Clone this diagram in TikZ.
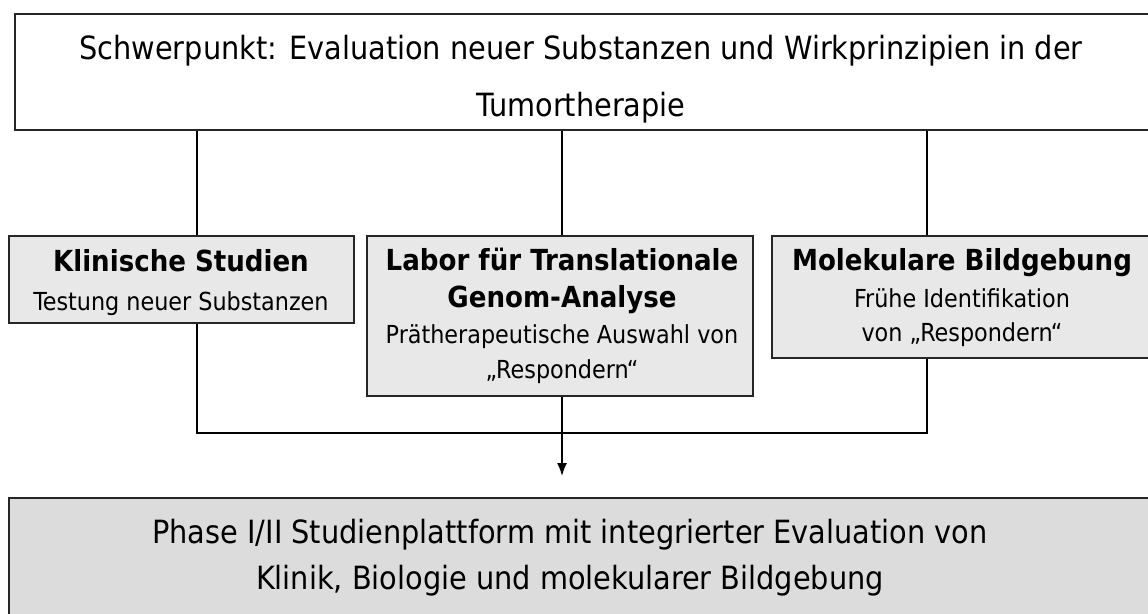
\documentclass[tikz,border=0pt]{standalone}
\usepackage{fontspec}
\setmainfont{DejaVu Sans Condensed}
\newfontfamily\boxfont{DejaVu Sans Condensed}
\usetikzlibrary{arrows.meta}
\definecolor{boxgray}{HTML}{E8E8E8}
\definecolor{basegray}{HTML}{DCDCDC}
\tikzset{
  frame/.style={draw=black!85, line width=1.8pt, inner sep=0pt, anchor=north west},
  lightbox/.style={frame, fill=boxgray},
  basebox/.style={frame, fill=basegray},
  bigtxt/.style={anchor=base, inner sep=0pt, font=\fontsize{32}{38}\selectfont},
  headtxt/.style={anchor=base, inner sep=0pt, font=\boxfont\bfseries\fontsize{29}{34}\selectfont},
  subtxt/.style={anchor=base, inner sep=0pt, font=\boxfont\fontsize{24.8}{29}\selectfont},
  conn/.style={draw=black, line width=1.6pt},
}
\begin{document}
\begin{tikzpicture}[x=1pt,y=-1pt]
\useasboundingbox (0,0) rectangle (1148,613);
% boxes
\node[frame, fill=white, minimum width=1140pt, minimum height=116pt] (top) at (14,13) {};
\node[lightbox, minimum width=345pt, minimum height=87pt] (kl) at (8,235) {};
\node[lightbox, minimum width=386pt, minimum height=160pt] (lab) at (366,235) {};
\node[lightbox, minimum width=382pt, minimum height=122pt] (mol) at (771,235) {};
\node[basebox, minimum width=1145pt, minimum height=140pt] (base) at (8,497) {};
% texts
\node[bigtxt] (t1) at (581,59) {Schwerpunkt: Evaluation neuer Substanzen und Wirkprinzipien in der};
\node[bigtxt] (t2) at (581,116) {Tumortherapie};
\node[headtxt] (k1) at (181,271) {Klinische Studien};
\node[subtxt] (k2) at (181,310) {Testung neuer Substanzen};
\node[headtxt] (l1) at (562,270) {Labor für Translationale};
\node[headtxt] (l2) at (562,307) {Genom-Analyse};
\node[subtxt] (l3) at (562,343) {Prätherapeutische Auswahl von};
\node[subtxt] (l4) at (562,378) {„Respondern“};
\node[headtxt] (m1) at (962,270) {Molekulare Bildgebung};
\node[subtxt] (m2) at (962,307) {Frühe Identifikation};
\node[subtxt] (m3) at (962,341) {von „Respondern“};
\node[bigtxt] (b1) at (570,543) {Phase I/II Studienplattform mit integrierter Evaluation von};
\node[bigtxt] (b2) at (570,589) {Klinik, Biologie und molekularer Bildgebung};
% connector helpers
\coordinate (c1) at (197,0);
\coordinate (c2) at (562,0);
\coordinate (c3) at (927,0);
\coordinate (join) at (562,433);
\coordinate (tip) at (562,476);
% connectors
\draw[conn] (c1 |- top.south) -- (c1 |- kl.north);
\draw[conn] (c2 |- top.south) -- (c2 |- lab.north);
\draw[conn] (c3 |- top.south) -- (c3 |- mol.north);
\draw[conn] (c1 |- kl.south) -- (c1 |- join) -- (c3 |- join) -- (c3 |- mol.south);
\draw[conn, -{Latex[length=13pt,width=10pt]}] (c2 |- lab.south) -- (tip);
\end{tikzpicture}
\end{document}
